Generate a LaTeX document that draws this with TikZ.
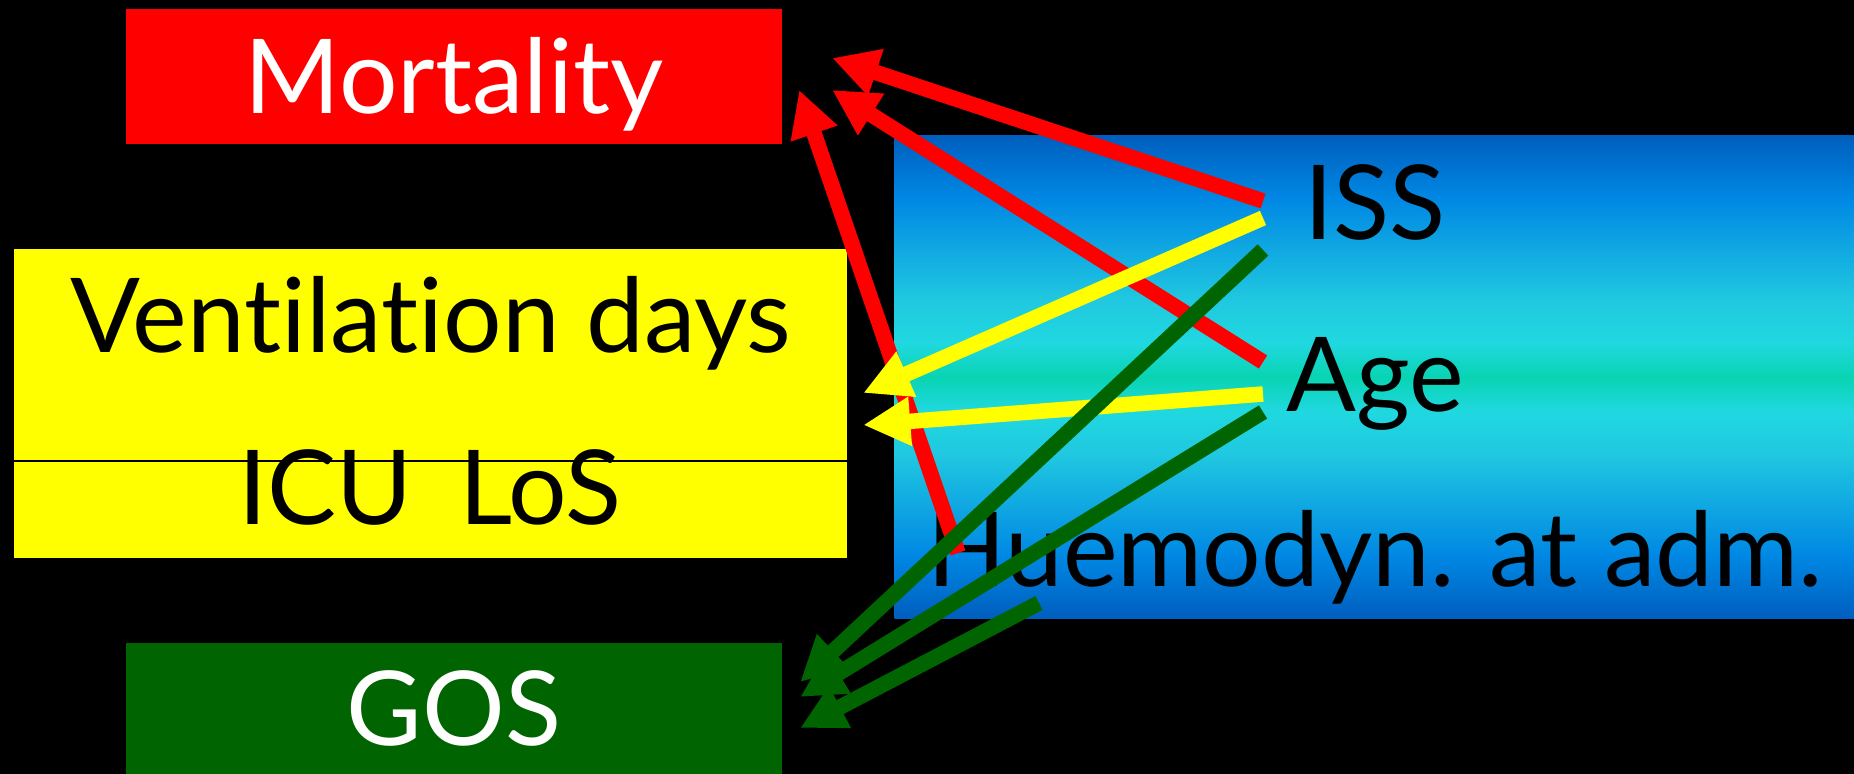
\documentclass[tikz,border=0pt]{standalone}
\usepackage{fontspec}
\setmainfont{Lato}[Ligatures=NoCommon]
\usepackage{xcolor}
\usepackage{tikz}
\usetikzlibrary{arrows.meta,calc}
\definecolor{skyA}{RGB}{0,94,190}
\definecolor{skyB}{RGB}{0,136,228}
\definecolor{skyC}{RGB}{32,200,224}
\definecolor{skyE}{RGB}{32,216,224}
\definecolor{skyD}{RGB}{8,212,178}
\definecolor{gosgreen}{RGB}{0,100,0}
\definecolor{icuyellow}{RGB}{255,255,0}
\definecolor{mortred}{RGB}{255,0,0}
\pgfdeclareverticalshading{skyband}{100bp}{color(0bp)=(skyA); color(25bp)=(skyA); color(31.5bp)=(skyB); color(42bp)=(skyC); color(46.5bp)=(skyE); color(50bp)=(skyD); color(53.5bp)=(skyE); color(58bp)=(skyC); color(68.5bp)=(skyB); color(75bp)=(skyA); color(100bp)=(skyA)}
\tikzset{
	txt/.style={font=\fontsize{29.4pt}{34pt}\selectfont},
	boxnode/.style={rectangle, inner sep=0pt, outer sep=0pt, txt, text height=0.74cm, text depth=0pt},
	redbox/.style={boxnode, fill=mortred, text=white, minimum width=6.56cm, minimum height=1.35cm},
	yellowbox/.style={boxnode, fill=icuyellow, minimum width=8.33cm, minimum height=3.09cm},
	greenbox/.style={boxnode, fill=gosgreen, text=white, minimum width=6.56cm, minimum height=1.31cm},
	skybox/.style={boxnode, shade, shading=skyband, minimum width=9.59cm, minimum height=4.82cm}
}
\tikzset{
	redarrow/.style={-{Triangle[length=0.46cm, width=0.46cm]}, draw=mortred, line width=0.155cm},
	yellowarrow/.style={-{Triangle[length=0.47cm, width=0.46cm]}, draw=icuyellow, line width=0.155cm},
	greenarrow/.style={-{Triangle[length=0.45cm, width=0.44cm]}, draw=gosgreen, line width=0.155cm}
}
\begin{document}
\begin{tikzpicture}[x=0.01cm, y=-0.01cm]
	\useasboundingbox (0,0) rectangle (1854,774);
	\fill[black] (0,0) rectangle (1854,774);

	\node[skybox] at (1374.5,377) (sky) {};
	\node[redbox] at (454,76.5) (mort) {Mortality};
	\node[yellowbox] at (430.5,403.5) (yel) {};
	\draw[line width=0.7pt] ($(yel.west)+(0,57.5)$) -- ($(yel.east)+(0,57.5)$);
	\node[txt, anchor=base] at (431,353) (vent) {Ventilation days};
	\node[txt, anchor=base] at (430,525) (icu) {ICU\hspace{0.45em}LoS};
	\node[greenbox] at (454,708.5) (gos) {GOS};

	\node[txt, anchor=base] at (1375,240) (iss) {ISS};
	\node[txt, anchor=base] at (1375,412) (age) {Age};
	\node[txt, anchor=base] at (1375,587) (hdyn) {Huemodyn. at adm.};

	% mortality
	\draw[redarrow] ($(iss.base)+(-112,-39)$) -- ($(mort.east)+(50,-18.5)$);
	\draw[redarrow] ($(age.base)+(-112,-50)$) -- ($(mort.east)+(50,13.5)$);
	\draw[redarrow] ($(hdyn.base)+(-417,-34)$) -- ($(mort.east)+(17,13.5)$);

	% ventilation / ICU stay
	\draw[yellowarrow] ($(iss.base)+(-112,-22)$) -- ($(yel.east)+(16,-10.5)$);
	\draw[yellowarrow] ($(age.base)+(-112,-18)$) -- ($(yel.east)+(16,21.5)$);

	% outcome
	\draw[greenarrow] ($(iss.base)+(-112,10)$) -- ($(gos.east)+(18,-26.5)$);
	\draw[greenarrow] ($(age.base)+(-112,0)$) -- ($(gos.east)+(18,-11.5)$);
	\draw[greenarrow] ($(hdyn.base)+(-336,16)$) -- ($(gos.east)+(18,19.5)$);
\end{tikzpicture}
\end{document}
